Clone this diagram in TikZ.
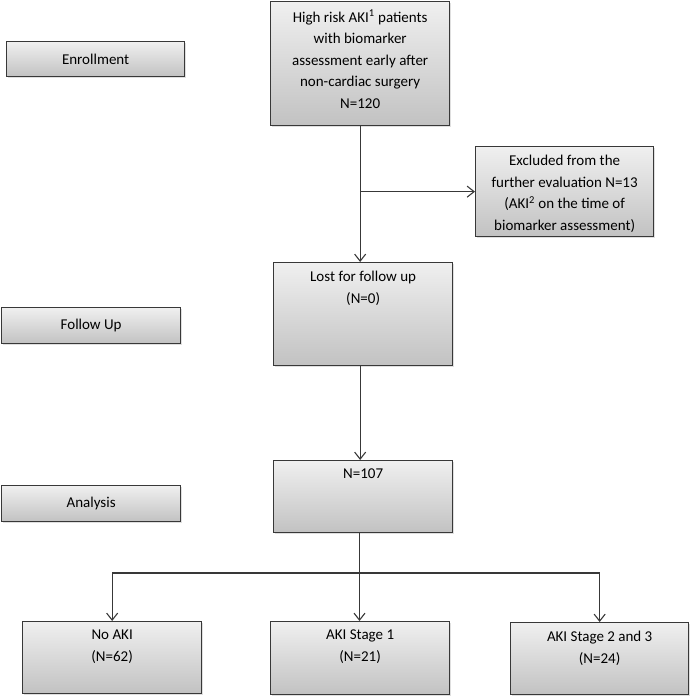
\documentclass[tikz,border=0pt]{standalone}
\usepackage{fontspec}
\setmainfont{Carlito}
\usepackage{tikz}
\usetikzlibrary{arrows.meta, positioning, shadows}

\begin{document}
\begin{tikzpicture}[x=1pt, y=-1pt]

\tikzset{
  box/.style     = {rectangle, anchor=north west, draw=black!78, line width=1.3pt,
                    top color=gray!12, bottom color=gray!48, inner sep=0pt,
                    drop shadow={shadow xshift=1.5pt, shadow yshift=-1.5pt, opacity=0.25},
                    font=\fontsize{15}{21.5}\selectfont},
  flow/.style    = {box, minimum width=179pt},
  phase/.style   = {box, minimum width=179pt, minimum height=36pt},
  boxtxt/.style  = {anchor=north, yshift=-9pt, align=center, inner sep=0pt,
                    font=\fontsize{15}{21.5}\selectfont},
  arr/.style     = {-{Straight Barb[length=7pt, width=11pt]}, line width=1.1pt, black!78},
  line/.style    = {line width=1.1pt, black!78}
}

\useasboundingbox (0,0) rectangle (689,697);

%% ── Phase labels (left column) ──────────────────────────────────
\node[phase, minimum width=178pt, minimum height=35pt] (enroll)   at (6,41)  {Enrollment};
\node[phase]                                          (follow)   at (1,307) {Follow Up};
\node[phase]                                          (analysis) at (1,485) {Analysis};

%% ── Main flow ───────────────────────────────────────────────────
\node[flow, minimum height=124pt,
      label={[boxtxt]north:{High risk AKI\textsuperscript{1} patients\\with biomarker\\
             assessment early after\\non-cardiac surgery\\N=120}}] (start) at (270,1) {};
\node[flow, minimum width=178pt, minimum height=90pt,
      label={[boxtxt]north:{Excluded from the\\further evaluation N=13\\
             (AKI\textsuperscript{2} on the time of\\biomarker assessment)}}] (excl) at (475,146) {};
\node[flow, minimum height=103pt,
      label={[boxtxt]north:{Lost for follow up\\(N=0)}}] (lost) at (273,262) {};
\node[flow, minimum height=72pt,
      label={[boxtxt]north:{N=107}}] (total) at (273,460) {};

%% ── Outcome groups ──────────────────────────────────────────────
\node[flow, minimum height=72pt,
      label={[boxtxt]north:{No AKI\\(N=62)}}] (noaki) at (22,621) {};
\node[flow, minimum height=73pt,
      label={[boxtxt]north:{AKI Stage 1\\(N=21)}}] (stage1) at (270,621) {};
\node[flow, minimum width=178pt, minimum height=72pt,
      label={[boxtxt]north:{AKI Stage 2 and 3\\(N=24)}}] (stage23) at (510,622) {};

%% ── Arrows: main spine ──────────────────────────────────────────
\coordinate (spine) at (start.south);
\coordinate (split) at (spine |- excl.west);
\draw[arr] (start.south) -- (spine |- lost.north);
\draw[arr] (split) -- (excl.west);
\draw[arr] (lost.south -| spine) -- (spine |- total.north);

%% ── Arrows: split into outcomes ─────────────────────────────────
\coordinate (bus) at (359.5,573);
\draw[line] (total.south -| bus) -- (bus);
\draw[arr] (bus) -| (noaki.north);
\draw[arr] (bus) -- (bus |- stage1.north);
\draw[arr] (bus) -| (stage23.north);

\end{tikzpicture}
\end{document}
